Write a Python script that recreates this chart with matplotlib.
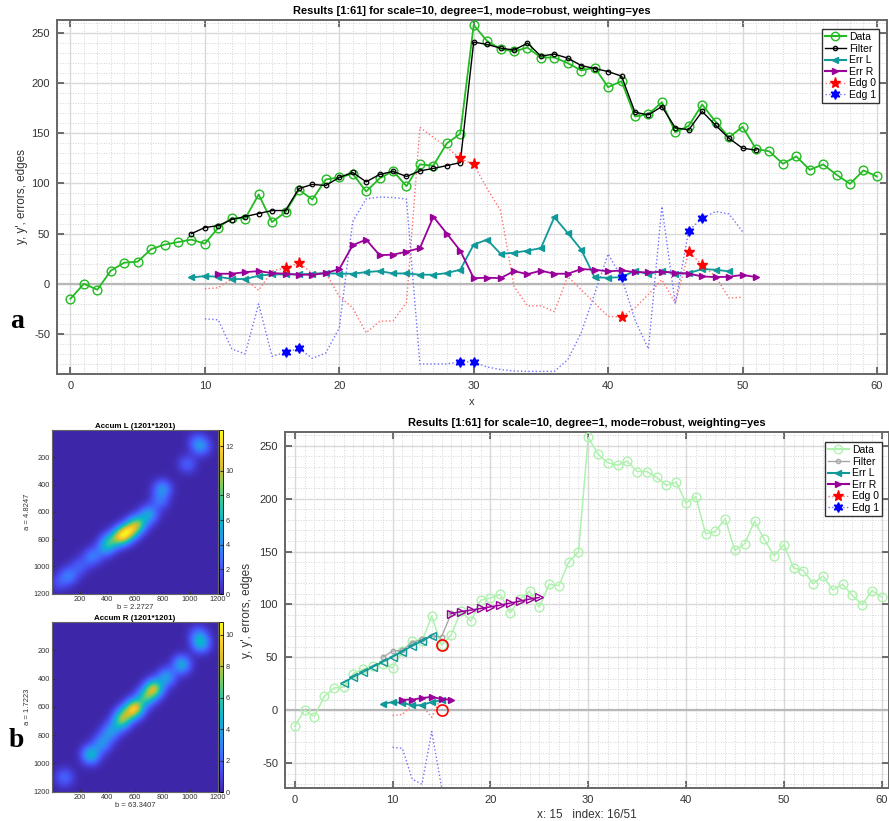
import numpy as np
import matplotlib
matplotlib.use('Agg')
import matplotlib.pyplot as plt
from matplotlib.colors import LinearSegmentedColormap
from matplotlib.ticker import MultipleLocator

plt.rcParams['font.family'] = ['Liberation Sans', 'DejaVu Sans']
plt.rcParams['axes.unicode_minus'] = False

# ---- data ----
x_data = list(range(0, 61))
y_data = [-15, 0, -6, 13, 21, 22, 34.5, 39, 41.5, 44, 40, 56, 65.5, 65, 89, 61.5, 71.4,
          93.7, 84, 104, 106, 109.6, 92, 105, 112.5, 97.3, 119, 117.8, 140, 149.5, 258,
          242, 234, 231.6, 235.5, 225.6, 225.6, 220, 212.6, 215.6, 196, 202, 166.8, 169,
          181, 151, 157.5, 178.7, 161.5, 146, 156.5, 134.5, 132, 119.6, 127, 113.6, 119,
          108.6, 99.7, 113, 107]

x_filt = list(range(9, 52))
y_filt = [50, 56, 58, 64, 67, 70, 73, 73, 95, 99, 98, 106, 111, 101.6, 109, 112, 107,
          112.5, 115, 117.8, 120.8, 241, 238.6, 235, 233, 240, 227, 229, 225, 217.6,
          214.6, 211.6, 207, 171, 168.4, 176.7, 155.5, 153.5, 171.8, 158, 145, 135.2, 133.2]

x_errl = list(range(9, 50))
err_l = [6.3, 7.6, 7, 4.7, 4.7, 8, 9.3, 9.3, 9.3, 10, 10.6, 10, 10, 11.6, 12.6, 10.3,
         10.3, 9, 9, 10.6, 14, 39, 44, 29.9, 30.9, 33, 35.5, 66.4, 50.5, 34, 6.3, 6,
         6.6, 13, 9.6, 13, 10, 10.6, 14.6, 14, 12.3]

x_errr = list(range(11, 52))
err_r = [10, 10, 11.6, 12.6, 10.6, 10, 9, 9, 10.6, 14.6, 38.5, 44, 28.5, 29, 32, 35.5,
         66.8, 50, 33, 5.6, 6, 5.6, 12.6, 9.6, 13, 10, 10, 14.6, 14, 12.3, 13.3, 11.6,
         11.3, 12, 11, 10, 7.3, 6.6, 7, 8.8, 6.6]

x_edg = list(range(10, 51))
edg_0 = [-5, -4, 4.7, 4.7, -6.6, 13, 15.6, 20.6, 10.6, 10.6, -12.6, -24, -49, -37.5, -37,
         -19, 156, 146, 136, 125, 119, 95, 73, -2.7, -22, -22, -27.8, 7.3, -6, -19.3,
         -32.5, -33.2, -24, -10.7, 4, -19.3, 32, 18.7, 7.3, -14.3, -13.4]
edg_1 = [-35, -36, -65, -70, -20, -72.4, -68.4, -64.5, -74.4, -69, -44, 62, 84.7, 86.4,
         86, 84.4, -80, -80, -80, -78, -78, -83, -85.6, -87, -87.4, -87.4, -87.4, -75.7,
         -49, -10, 29.7, 6.4, -36, -65, 77, -20, 53, 65.4, 72, 69.7, 52]
x_stars = [16, 17, 29, 30, 41, 46, 47]

# state of the scan in panel b (x = 15, index 16/51)
x_now = 15
x_filt_now = list(range(9, 17))
y_filt_now = [50, 56, 56.5, 64, 67, 70, 69.4, 91.5]
x_fit_l = list(range(5, 15))
fit_l = [26.2, 31.5, 36, 41, 45.7, 50.4, 55.5, 60.8, 65.3, 70.3]
x_fit_r = list(range(16, 26))
fit_r = [91.4, 93.3, 94.6, 96.2, 97.7, 99.3, 101.2, 103.1, 105, 106.6]

# accumulator blobs: b, a, height
acc_l_b = [1080, 1050, 980, 800, 780, 700, 620, 560, 500, 420, 380, 290, 200, 120, 50]
acc_l_a = [120, 80, 250, 430, 520, 620, 690, 740, 780, 820, 870, 930, 1000, 1070, 1120]
acc_l_h = [3.5, 1.5, 2.2, 3.8, 2.5, 4.5, 7, 8, 9, 5, 3, 3, 2, 3, 1.5]
acc_r_b = [1080, 1060, 940, 830, 740, 680, 600, 530, 490, 420, 360, 280, 90]
acc_r_a = [150, 90, 300, 390, 470, 530, 610, 660, 710, 780, 860, 940, 1100]
acc_r_h = [4, 2, 4, 3.5, 7, 5, 8, 5, 4, 3, 3, 4.5, 2]

green = '#22bb22'
teal = '#119999'
purple = '#990099'
red_line = '#ff6f6f'
blue_line = '#7070ff'

parula = LinearSegmentedColormap.from_list('parula', [
    (0.2422, 0.1504, 0.6603), (0.2803, 0.2782, 0.9221), (0.2440, 0.4358, 0.9988),
    (0.1540, 0.5902, 0.9218), (0.0297, 0.7082, 0.8163), (0.1938, 0.7758, 0.6251),
    (0.5044, 0.7993, 0.3480), (0.8634, 0.7406, 0.1596), (0.9892, 0.8136, 0.1885),
    (0.9769, 0.9839, 0.0805)])


def style_axes(ax, ylim):
    ax.set_xlim(-1, 60.75)
    ax.set_ylim(*ylim)
    ax.xaxis.set_major_locator(MultipleLocator(10))
    ax.yaxis.set_major_locator(MultipleLocator(50))
    ax.xaxis.set_minor_locator(MultipleLocator(1))
    ax.yaxis.set_minor_locator(MultipleLocator(10))
    ax.grid(which='major', color='#d9d9d9', linewidth=1.0, zorder=0)
    ax.grid(which='minor', color='#d4d4d4', linestyle=':', linewidth=0.7, zorder=0)
    ax.axhline(0, color='#b8b8b8', linewidth=1.6, zorder=1)
    ax.tick_params(which='both', direction='in', top=True, right=True,
                   labelsize=8, colors='#333333', pad=5)
    ax.tick_params(which='major', length=5, width=1.2, color='#555555')
    ax.tick_params(which='minor', length=0)
    for s in ax.spines.values():
        s.set_color('#666666')
        s.set_linewidth(1.4)
    ax.set_axisbelow(True)


def draw_edges(ax, xs, e0, e1, stars):
    ax.plot(xs, e0, ':', color=red_line, linewidth=1.0, zorder=3)
    ax.plot(xs, e1, ':', color=blue_line, linewidth=1.0, zorder=3)
    s0 = [e0[xs.index(s)] for s in stars if s in xs]
    s1 = [e1[xs.index(s)] for s in stars if s in xs]
    sx = [s for s in stars if s in xs]
    ax.plot(sx, s0, '*', color='red', markersize=8, linestyle='none', zorder=6)
    ax.plot(sx, s1, marker=(6, 1, 0), color='blue', markersize=7, linestyle='none', zorder=6)


def legend_handles(data_col, filt_col):
    return [
        plt.Line2D([], [], color=data_col, marker='o', mfc='none', markersize=6, lw=1.5),
        plt.Line2D([], [], color=filt_col, marker='o', mfc='none', markersize=3, lw=1.0),
        plt.Line2D([], [], color=teal, marker='<', markersize=4, lw=1.5),
        plt.Line2D([], [], color=purple, marker='>', markersize=4, lw=1.5),
        plt.Line2D([], [], color=red_line, linestyle=':', marker='*', mfc='red', mec='red',
                   markersize=8, lw=1.0),
        plt.Line2D([], [], color=blue_line, linestyle=':', marker=(6, 1, 0), mfc='blue',
                   mec='blue', markersize=7, lw=1.0),
    ]


def add_legend(ax, handles, corner):
    leg = ax.legend(handles, labels, loc='upper right',
                    bbox_to_anchor=(corner[0] / 889, 1 - corner[1] / 821),
                    bbox_transform=fig.transFigure, fontsize=7.5, handlelength=2.0,
                    handletextpad=0.3, labelspacing=0.15, borderpad=0.3,
                    fancybox=False, framealpha=1, borderaxespad=0)
    leg.get_frame().set_edgecolor('#333333')
    leg.get_frame().set_linewidth(1.0)


labels = ['Data', 'Filter', 'Err L', 'Err R', 'Edg 0', 'Edg 1']
title = 'Results [1:61] for scale=10, degree=1, mode=robust, weighting=yes'

fig = plt.figure(figsize=(8.89, 8.21), dpi=100)

# ---- panel a ----
ax = fig.add_axes([57 / 889, 1 - 374 / 821, 830 / 889, 354 / 821])
style_axes(ax, (-90, 263))
ax.plot(x_data, y_data, '-o', color=green, mfc='none', markersize=6.3, lw=1.3, zorder=4)
ax.plot(x_filt, y_filt, '-o', color='black', mfc='none', markersize=3.3, lw=1.0,
        mew=0.9, zorder=5)
ax.plot(x_errl, err_l, '-<', color=teal, markersize=4.2, lw=1.3, zorder=4)
ax.plot(x_errr, err_r, '->', color=purple, markersize=4.2, lw=1.3, zorder=4)
draw_edges(ax, x_edg, edg_0, edg_1, x_stars)
ax.set_title(title, fontsize=8, fontweight='bold', pad=4)
ax.set_xlabel('x', fontsize=8, color='#333333')
ax.xaxis.set_label_coords(0.5, -0.065)
ax.set_ylabel("y, y', errors, edges", fontsize=8.5, color='#333333')
ax.yaxis.set_label_coords(-0.035, 0.5)
add_legend(ax, legend_handles(green, 'black'), (879, 29))
fig.text(17 / 889, 1 - 321 / 821, 'a', fontsize=20, fontweight='bold',
         family='Liberation Serif', ha='center', va='center')

# ---- panel b: scan ----
ax2 = fig.add_axes([285 / 889, 1 - 788 / 821, 604 / 889, 356 / 821])
style_axes(ax2, (-73.5, 263))
ax2.plot(x_data, y_data, '-o', color='#aef2ae', mfc='none', markersize=6.3, lw=1.1, zorder=3)
ax2.plot(x_filt_now, y_filt_now, '-o', color='#a8a8a8', mfc='none', markersize=3.3,
         lw=1.0, zorder=4)
ax2.plot(x_fit_l, fit_l, '-<', color=teal, mfc='none', markersize=6, lw=1.1, zorder=5)
ax2.plot(x_fit_r, fit_r, '->', color=purple, mfc='none', markersize=6, lw=1.1, zorder=5)
n_l = x_errl.index(x_now) + 1
n_r = x_errr.index(x_now + 1) + 1
n_e = x_edg.index(x_now) + 1
ax2.plot(x_errl[:n_l], err_l[:n_l], '-<', color=teal, markersize=4.2, lw=1.3, zorder=5)
ax2.plot(x_errr[:n_r], err_r[:n_r], '->', color=purple, markersize=4.2, lw=1.3, zorder=5)
draw_edges(ax2, x_edg[:n_e], edg_0[:n_e], edg_1[:n_e], x_stars)
ax2.plot([x_now, x_now], [y_data[x_now], 0], 'o', color='red', mfc='none',
         markersize=8, mew=1.2, linestyle='none', zorder=7)
ax2.set_title(title, fontsize=8, fontweight='bold', pad=4)
ax2.set_xlabel('x: %d   index: %d/51' % (x_now, x_now + 1), fontsize=8.5, color='#333333')
ax2.xaxis.set_label_coords(0.5, -0.058)
ax2.set_ylabel("y, y', errors, edges", fontsize=8.5, color='#333333')
ax2.yaxis.set_label_coords(-0.053, 0.5)
add_legend(ax2, legend_handles('#aef2ae', '#a8a8a8'), (882, 442))
fig.text(16 / 889, 1 - 740 / 821, 'b', fontsize=20, fontweight='bold',
         family='Liberation Serif', ha='center', va='center')


# ---- accumulators ----
def accum(bs, as_, hs, sigma=47.0):
    g = np.linspace(1, 1201, 301)
    B, A = np.meshgrid(g, g)
    z = np.zeros_like(B)
    for b, a, h in zip(bs, as_, hs):
        z += h * np.exp(-((B - b) ** 2 + (A - a) ** 2) / (2 * sigma ** 2))
    return z


acc_panels = [
    ('Accum L (1201*1201)', 'b = 2.2727', 'a = 4.8247', acc_l_b, acc_l_a, acc_l_h, 430, 594, 13.3),
    ('Accum R (1201*1201)', 'b = 63.3407', 'a = 1.7223', acc_r_b, acc_r_a, acc_r_h, 622, 792, 10.8),
]
for ttl, xl, yl, bs, as_, hs, top, bot, vmax in acc_panels:
    axh = fig.add_axes([52 / 889, 1 - bot / 821, 166 / 889, (bot - top) / 821])
    z = accum(bs, as_, hs)
    im = axh.imshow(z, cmap=parula, extent=(0.5, 1201.5, 1201.5, 0.5), aspect='auto',
                    vmin=0, vmax=vmax, interpolation='bilinear')
    axh.set_xticks([200, 400, 600, 800, 1000, 1200])
    axh.set_yticks([200, 400, 600, 800, 1000, 1200])
    axh.tick_params(labelsize=5.3, colors='#333333', direction='in', length=2, pad=1.5)
    axh.set_title(ttl, fontsize=5.8, fontweight='bold', pad=1.5)
    axh.set_xlabel(xl, fontsize=5.5, labelpad=0.5, color='#333333')
    axh.set_ylabel(yl, fontsize=5.5, labelpad=1.5, color='#333333')
    for s in axh.spines.values():
        s.set_color('#666666')
        s.set_linewidth(0.8)
    cax = fig.add_axes([219 / 889, 1 - bot / 821, 4 / 889, (bot - top) / 821])
    cb = fig.colorbar(im, cax=cax)
    cb.set_ticks(list(range(0, int(vmax) + 1, 2)))
    cb.ax.tick_params(labelsize=5.3, colors='#333333', direction='in', length=2, pad=2)
    cb.outline.set_linewidth(0.6)

fig.savefig('out.png', dpi=100)
